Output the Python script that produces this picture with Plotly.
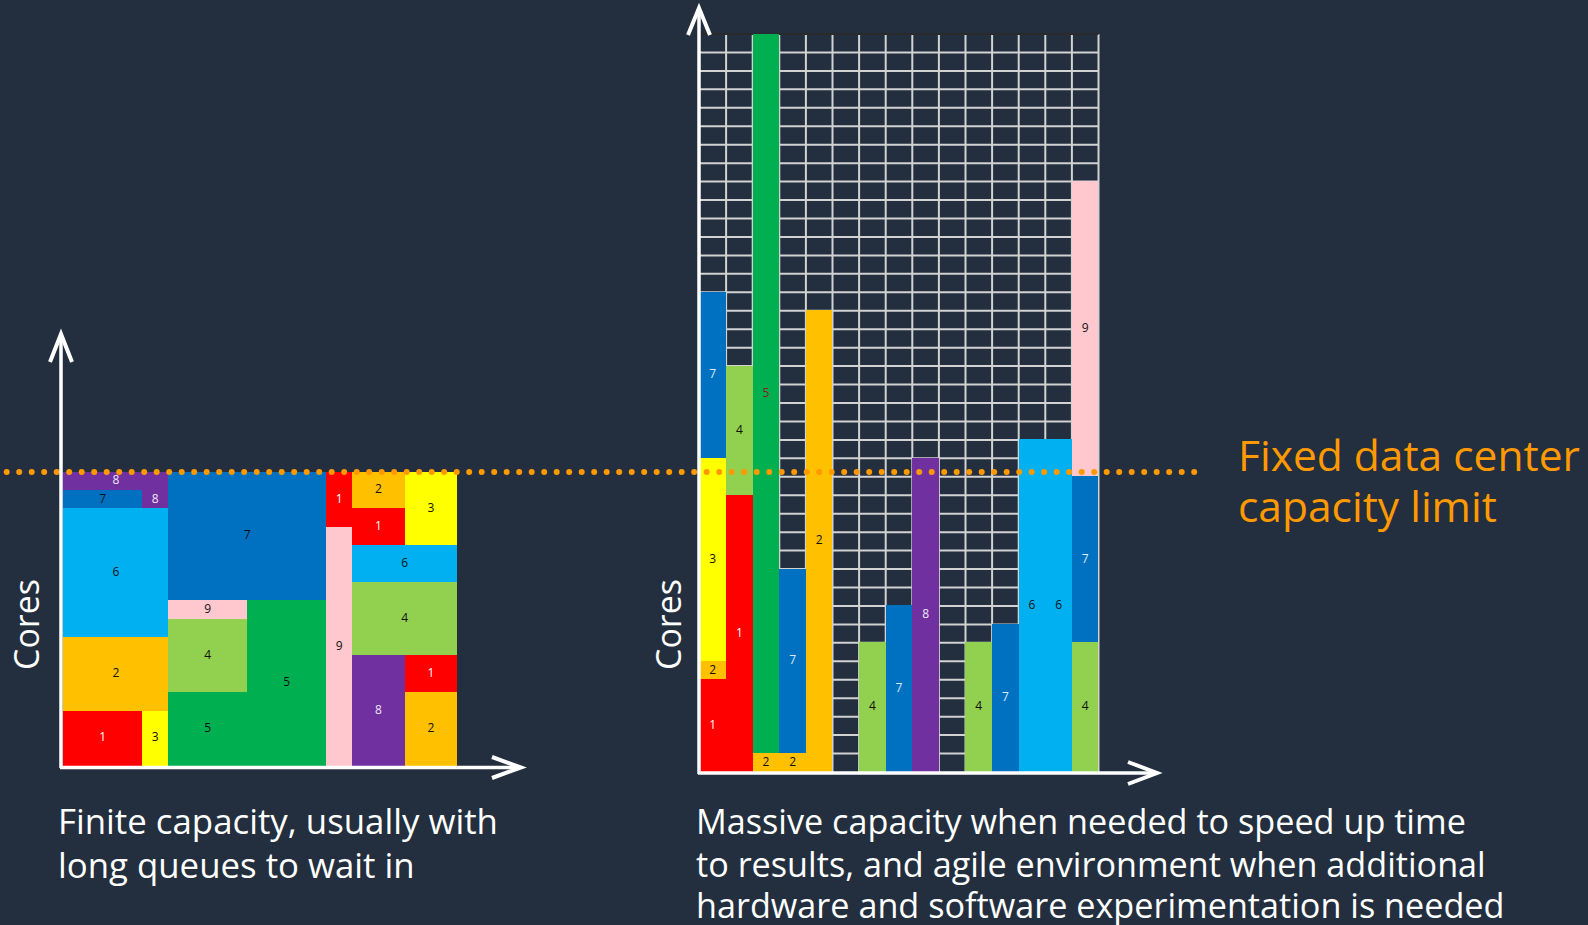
import numpy as np
import plotly.graph_objects as go

# ---------------------------------------------------------------------------
# Job blocks: each block is a job id with its core/time rectangle
# (x0..x1 = time slots, y0..y1 = cores)
# ---------------------------------------------------------------------------
CAPACITY_LIMIT = 16

# On-premises cluster: jobs packed under a fixed capacity
onprem_job = [1, 3, 2, 6, 7, 8, 8, 5, 5, 4, 9, 7, 9, 1, 2, 1, 3, 6, 4, 8, 1, 2]
onprem_x0 = [0, 3, 0, 0, 0, 3, 0, 4, 7, 4, 4, 4, 10, 10, 11, 11, 13, 11, 11, 11, 13, 13]
onprem_x1 = [3, 4, 4, 4, 3, 4, 4, 7, 10, 7, 7, 10, 11, 11, 13, 13, 15, 15, 15, 13, 15, 15]
onprem_y0 = [0, 0, 3, 7, 14, 14, 15, 0, 0, 4, 8, 9, 0, 13, 14, 12, 12, 10, 6, 0, 4, 0]
onprem_y1 = [3, 3, 7, 14, 15, 15, 16, 4, 9, 8, 9, 16, 13, 16, 16, 14, 16, 12, 10, 6, 6, 4]

# Cloud: each job gets as many cores as it needs
cloud_job = [1, 2, 3, 7, 1, 4, 2, 5, 2, 7, 2, 4, 7, 8, 4, 7, 6, 6, 4, 7, 9]
cloud_x0 = [0, 0, 0, 0, 1, 1, 2, 2, 3, 3, 4, 6, 7, 8, 10, 11, 12, 13, 14, 14, 14]
cloud_x1 = [1, 1, 1, 1, 2, 2, 3, 3, 4, 4, 5, 7, 8, 9, 11, 12, 13, 14, 15, 15, 15]
cloud_y0 = [0, 5, 6, 17, 0, 15, 0, 1, 0, 1, 0, 0, 0, 0, 0, 0, 0, 0, 0, 7, 16]
cloud_y1 = [5, 6, 17, 26, 15, 22, 1, 40, 1, 11, 25, 7, 9, 17, 7, 8, 18, 18, 7, 16, 32]

CLOUD_SLOTS = 15
CLOUD_CORES = 40

# ---------------------------------------------------------------------------
# Styles
# ---------------------------------------------------------------------------
W, H = 1588, 925
BG = "#232F3E"
ORANGE = "#FF9900"
FONT = "Open Sans"

JOB_COLOR = {
    1: "#FF0000", 2: "#FFC000", 3: "#FFFF00", 4: "#92D050", 5: "#00B050",
    6: "#00B0F0", 7: "#0070C0", 8: "#7030A0", 9: "#FFC7CE",
}
ONPREM_TEXT = {1: "#FFFFFF", 2: "#111111", 3: "#111111", 4: "#111111", 5: "#111111",
               6: "#111111", 7: "#111111", 8: "#EDE6F5", 9: "#111111"}
CLOUD_TEXT = {1: "#FFFFFF", 2: "#111111", 3: "#111111", 4: "#111111", 5: "#8B1A1A",
              6: "#111111", 7: "#DDEBF7", 8: "#EDE6F5", 9: "#111111"}


def px_x(p):
    return p / W


def px_y(p):
    return 1 - p / H


def x_axis(origin, unit, lo, hi):
    return dict(domain=[px_x(origin + lo * unit), px_x(origin + hi * unit)],
                range=[lo, hi], visible=False, fixedrange=True)


def y_axis(origin, unit, lo, hi):
    return dict(domain=[px_y(origin - lo * unit), px_y(origin - hi * unit)],
                range=[lo, hi], visible=False, fixedrange=True)


# pixel placement of the two panels
L_ORIGIN_X, L_UNIT_X, L_ORIGIN_Y, L_UNIT_Y = 63.3, 26.27, 766.0, 18.375
R_ORIGIN_X, R_UNIT_X, R_ORIGIN_Y, R_UNIT_Y = 699.5, 26.6, 772.0, 18.45

fig = go.Figure()


def add_blocks(job, x0, x1, y0, y1, text_colors, xa, ya):
    x0, x1, y0, y1 = map(np.asarray, (x0, x1, y0, y1))
    fig.add_trace(go.Bar(
        x=(x0 + x1) / 2, y=y1 - y0, base=y0, width=x1 - x0,
        marker=dict(color=[JOB_COLOR[j] for j in job], line=dict(width=0)),
        xaxis=xa, yaxis=ya, hoverinfo="skip", showlegend=False,
    ))
    fig.add_trace(go.Scatter(
        x=(x0 + x1) / 2, y=(y0 + y1) / 2, mode="text",
        text=[str(j) for j in job],
        textfont=dict(family=FONT, size=12, color=[text_colors[j] for j in job]),
        xaxis=xa, yaxis=ya, hoverinfo="skip", showlegend=False, cliponaxis=False,
    ))


add_blocks(onprem_job, onprem_x0, onprem_x1, onprem_y0, onprem_y1, ONPREM_TEXT, "x", "y")
add_blocks(cloud_job, cloud_x0, cloud_x1, cloud_y0, cloud_y1, CLOUD_TEXT, "x2", "y2")

# dotted capacity limit, drawn on a full-width overlay that shares the left core scale
dot_x = np.arange(6.7, 1205, 12.5)
fig.add_trace(go.Scatter(
    x=dot_x, y=np.full(dot_x.shape, CAPACITY_LIMIT), mode="markers",
    marker=dict(size=6, color=ORANGE, line=dict(width=0)),
    xaxis="x3", yaxis="y3", hoverinfo="skip", showlegend=False, cliponaxis=False,
))

left_y = y_axis(L_ORIGIN_Y, L_UNIT_Y, -0.2, 16.2)
fig.update_layout(
    width=W, height=H,
    margin=dict(l=0, r=0, t=0, b=0),
    paper_bgcolor=BG, plot_bgcolor="rgba(0,0,0,0)",
    barmode="overlay", bargap=0,
    xaxis=x_axis(L_ORIGIN_X, L_UNIT_X, -0.2, 15.2),
    yaxis=left_y,
    xaxis2=x_axis(R_ORIGIN_X, R_UNIT_X, -0.2, CLOUD_SLOTS + 0.2),
    yaxis2=y_axis(R_ORIGIN_Y, R_UNIT_Y, -0.2, CLOUD_CORES + 0.3),
    xaxis3=dict(domain=[0, 1], range=[0, W], visible=False, fixedrange=True),
    yaxis3=dict(left_y, anchor="x3"),
    showlegend=False,
)
fig.layout.xaxis3.anchor = "y3"

shapes = []

# grid behind the cloud bars
for i in range(1, CLOUD_SLOTS + 1):
    shapes.append(dict(type="line", xref="x2", yref="y2", x0=i, x1=i, y0=0, y1=CLOUD_CORES,
                       line=dict(color="#D2D2D2", width=2), layer="below"))
for j in range(1, CLOUD_CORES + 1):
    shapes.append(dict(type="line", xref="x2", yref="y2", x0=0, x1=CLOUD_SLOTS, y0=j, y1=j,
                       line=dict(color="#2A2A2A" if j == CLOUD_CORES else "#D2D2D2", width=2),
                       layer="below"))


def pline(points, width):
    path = "M " + " L ".join(f"{px_x(a):.5f},{px_y(b):.5f}" for a, b in points)
    return dict(type="path", xref="paper", yref="paper", path=path,
                line=dict(color="white", width=width), layer="above")


# axes with open arrowheads
shapes += [
    pline([(61, 768), (61, 336)], 3.5),
    pline([(50, 362), (61, 334), (72, 362)], 4),
    pline([(60, 767.5), (519, 767.5)], 3.5),
    pline([(492, 757), (521, 767.5), (492, 778)], 4),
    pline([(699, 774), (699, 10)], 3.5),
    pline([(688, 35), (699, 8), (710, 35)], 4),
    pline([(698, 773), (1155, 773)], 3.5),
    pline([(1128, 762), (1157, 773), (1128, 784)], 4),
]
fig.update_layout(shapes=shapes)


def note(text, x, y, size, color="white", angle=0, xanchor="left"):
    fig.add_annotation(text=text, x=px_x(x), y=px_y(y), xref="paper", yref="paper",
                       xanchor=xanchor, yanchor="middle", showarrow=False,
                       textangle=angle, font=dict(family=FONT, size=size, color=color))


note("Cores", 26, 625, 34, angle=-90, xanchor="center")
note("Cores", 668, 625, 34, angle=-90, xanchor="center")

note("Fixed data center", 1236, 454, 42.5, color=ORANGE)
note("capacity limit", 1236, 505, 42.5, color=ORANGE)

note("Finite capacity, usually with", 56, 820, 34.8)
note("long queues to wait in", 56, 864, 34.8)

note("Massive capacity when needed to speed up time", 694, 820, 34.2)
note("to results, and agile environment when additional", 694, 863, 34.2)
note("hardware and software experimentation is needed", 694, 904, 34.2)

fig.write_html("out.html")
